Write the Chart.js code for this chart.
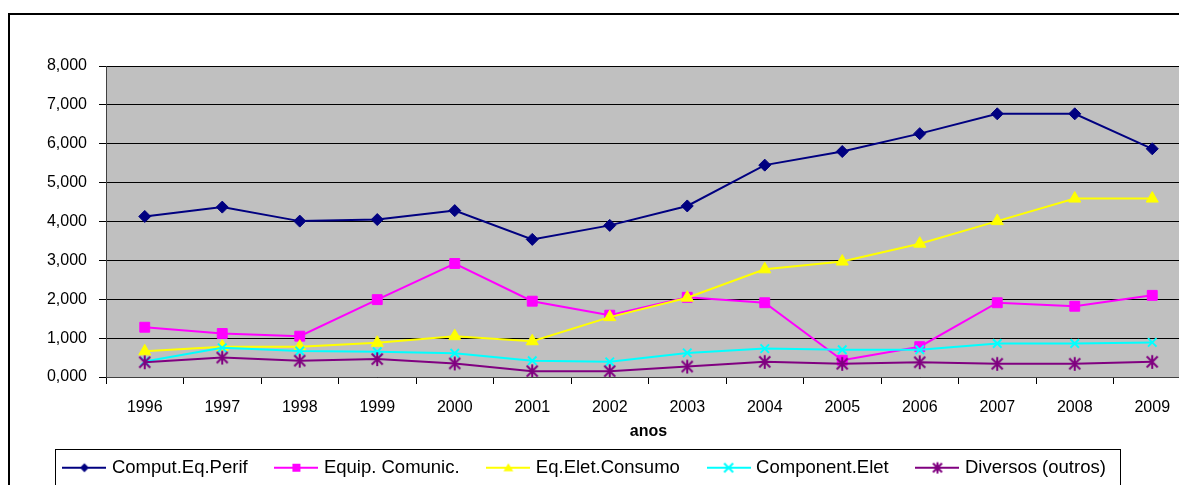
<!DOCTYPE html>
<html>
<head>
<meta charset="utf-8">
<script src="https://cdn.jsdelivr.net/npm/chart.js@4"></script>
<style>
  html, body { margin: 0; padding: 0; background: #fff; overflow: hidden; width: 1179px; height: 485px; }
  #frame { position: absolute; left: 8px; top: 13px; width: 1300px; height: 600px;
           border-top: 2px solid #000; border-left: 2px solid #000; }
  #wrap { position: absolute; left: 0; top: 0; width: 1200px; height: 500px; }
</style>
</head>
<body>
<div id="frame"></div>
<div id="wrap"><canvas id="chart"></canvas></div>
<script>
// values
const years = ['1996', '1997', '1998', '1999', '2000', '2001', '2002', '2003', '2004', '2005', '2006', '2007', '2008', '2009'];
const computEqPerif = [4.13, 4.37, 4.01, 4.05, 4.28, 3.54, 3.90, 4.40, 5.45, 5.80, 6.26, 6.77, 6.77, 5.87];
const equipComunic  = [1.28, 1.12, 1.05, 1.99, 2.92, 1.95, 1.59, 2.05, 1.91, 0.43, 0.78, 1.91, 1.82, 2.10];
const eqEletConsumo = [0.66, 0.78, 0.78, 0.88, 1.05, 0.92, 1.54, 2.04, 2.77, 2.97, 3.43, 4.01, 4.59, 4.59];
const componentElet = [0.40, 0.75, 0.67, 0.65, 0.61, 0.42, 0.39, 0.62, 0.73, 0.70, 0.70, 0.86, 0.86, 0.89];
const diversos      = [0.38, 0.50, 0.42, 0.46, 0.35, 0.15, 0.15, 0.27, 0.39, 0.34, 0.38, 0.34, 0.34, 0.39];
const yTickLabels = ['0,000', '1,000', '2,000', '3,000', '4,000', '5,000', '6,000', '7,000', '8,000'];
const seriesNames = ['Comput.Eq.Perif', 'Equip. Comunic.', 'Eq.Elet.Consumo', 'Component.Elet', 'Diversos (outros)'];

const colors = ['#000080', '#FF00FF', '#FFFF00', '#00FFFF', '#800080'];
const shapes = ['diamond', 'square', 'triangle', 'x', 'star'];

// draw a marker shape on a 2d context
function drawMarker(c, shape, x, y, s, color) {
  c.fillStyle = color;
  c.strokeStyle = color;
  c.lineWidth = 2;
  c.beginPath();
  if (shape === 'diamond') {
    c.moveTo(x, y - s); c.lineTo(x + s, y); c.lineTo(x, y + s); c.lineTo(x - s, y); c.closePath(); c.fill();
  } else if (shape === 'square') {
    c.rect(x - s, y - s, 2 * s, 2 * s); c.fill();
  } else if (shape === 'triangle') {
    c.moveTo(x, y - s); c.lineTo(x + s * 1.1, y + s * 0.75); c.lineTo(x - s * 1.1, y + s * 0.75); c.closePath(); c.fill();
  } else if (shape === 'x') {
    c.moveTo(x - s, y - s); c.lineTo(x + s, y + s); c.moveTo(x + s, y - s); c.lineTo(x - s, y + s); c.stroke();
  } else {
    c.moveTo(x - s, y - s); c.lineTo(x + s, y + s); c.moveTo(x + s, y - s); c.lineTo(x - s, y + s);
    c.moveTo(x, y - s * 1.25); c.lineTo(x, y + s * 1.25); c.stroke();
  }
}

// asterisk marker for the last series (Excel style)
const starImg = document.createElement('canvas');
starImg.width = 16; starImg.height = 16;
drawMarker(starImg.getContext('2d'), 'star', 8, 8, 5.5, colors[4]);

// legend icons: line with marker in the middle
const legendIcons = colors.map((col, i) => {
  const cv = document.createElement('canvas');
  cv.width = 44; cv.height = 16;
  const c = cv.getContext('2d');
  c.strokeStyle = col; c.lineWidth = 2;
  c.beginPath(); c.moveTo(0, 8); c.lineTo(44, 8); c.stroke();
  drawMarker(c, shapes[i], 22, 8, shapes[i] === 'square' ? 4 : 4.5, col);
  return cv;
});

const plotBg = {
  id: 'plotBg',
  beforeDraw(chart) {
    const a = chart.chartArea, c = chart.ctx;
    c.save(); c.fillStyle = '#C0C0C0';
    c.fillRect(a.left, a.top, a.right - a.left, a.bottom - a.top);
    c.restore();
  }
};

const legendBox = {
  id: 'legendBox',
  afterLayout(chart) {
    const lg = chart.legend;
    lg.top -= 13; lg.bottom -= 13;
    lg.left -= 11; lg.right -= 11;
  },
  afterDraw(chart) {
    const lg = chart.legend, c = chart.ctx;
    const pad = lg.options.labels.padding;
    const fs = lg.options.labels.font.size;
    const lw = lg.lineWidths[0];
    const x0 = (lg.left + pad + lg.right - lw) / 2;
    const x1 = x0 + lw - pad;
    const yMid = lg.top + pad + fs / 2;
    c.save();
    c.strokeStyle = '#000'; c.lineWidth = 1;
    c.strokeRect(Math.round(x0 - 11) + 0.5, Math.round(yMid - 19) + 0.5, Math.round(x1 - x0 + 25), 100);
    c.restore();
  }
};

const seriesData = [computEqPerif, equipComunic, eqEletConsumo, componentElet, diversos];
const pointStyles = ['rectRot', 'rect', 'triangle', 'crossRot', starImg];
const pointRadii = [6, 7, 7, 6, 8];

const ctx = document.getElementById('chart').getContext('2d');
new Chart(ctx, {
  type: 'line',
  data: {
    labels: years,
    datasets: seriesData.map((d, i) => ({
      label: seriesNames[i],
      data: d,
      borderColor: colors[i],
      backgroundColor: colors[i],
      borderWidth: 2,
      pointStyle: pointStyles[i],
      pointRadius: pointRadii[i],
      pointBorderWidth: i === 3 ? 2 : 1,
      pointBackgroundColor: colors[i],
      pointBorderColor: colors[i],
      tension: 0,
      order: 5 - i
    }))
  },
  options: {
    responsive: true,
    maintainAspectRatio: false,
    devicePixelRatio: 1,
    animation: false,
    layout: { padding: { top: 66, right: 6, left: 0, bottom: 0 } },
    plugins: {
      tooltip: { enabled: false },
      legend: {
        position: 'bottom',
        labels: {
          usePointStyle: true,
          pointStyleWidth: 36.5,
          padding: 30.5,
          color: '#000',
          font: { family: 'Arial, "Liberation Sans"', size: 18.5 },
          generateLabels: chart => chart.data.datasets.map((ds, i) => ({
            text: ds.label,
            pointStyle: legendIcons[i],
            fillStyle: 'transparent',
            strokeStyle: 'transparent',
            lineWidth: 0,
            fontColor: '#000',
            hidden: false,
            datasetIndex: i
          }))
        }
      }
    },
    scales: {
      x: {
        offset: true,
        grid: { offset: true, drawOnChartArea: false, drawTicks: true, tickLength: 7, tickColor: '#000' },
        border: { color: '#404040', width: 1 },
        ticks: { color: '#000', font: { family: 'Arial, "Liberation Sans"', size: 16 }, padding: 14, maxRotation: 0, autoSkip: false },
        title: { display: true, text: 'anos', color: '#000', font: { family: 'Arial, "Liberation Sans"', size: 16, weight: 'bold' }, padding: { top: 0, bottom: 0 } },
        afterFit: s => { s.height = 64; }
      },
      y: {
        min: 0,
        max: 8,
        grid: { color: '#000', lineWidth: 1, tickLength: 7, tickColor: '#000' },
        border: { color: '#404040', width: 1 },
        ticks: {
          stepSize: 1,
          color: '#000',
          padding: 12,
          font: { family: 'Arial, "Liberation Sans"', size: 16 },
          callback: (v, i) => yTickLabels[i]
        },
        afterFit: s => { s.width = 106; }
      }
    }
  },
  plugins: [plotBg, legendBox]
});
</script>
</body>
</html>
